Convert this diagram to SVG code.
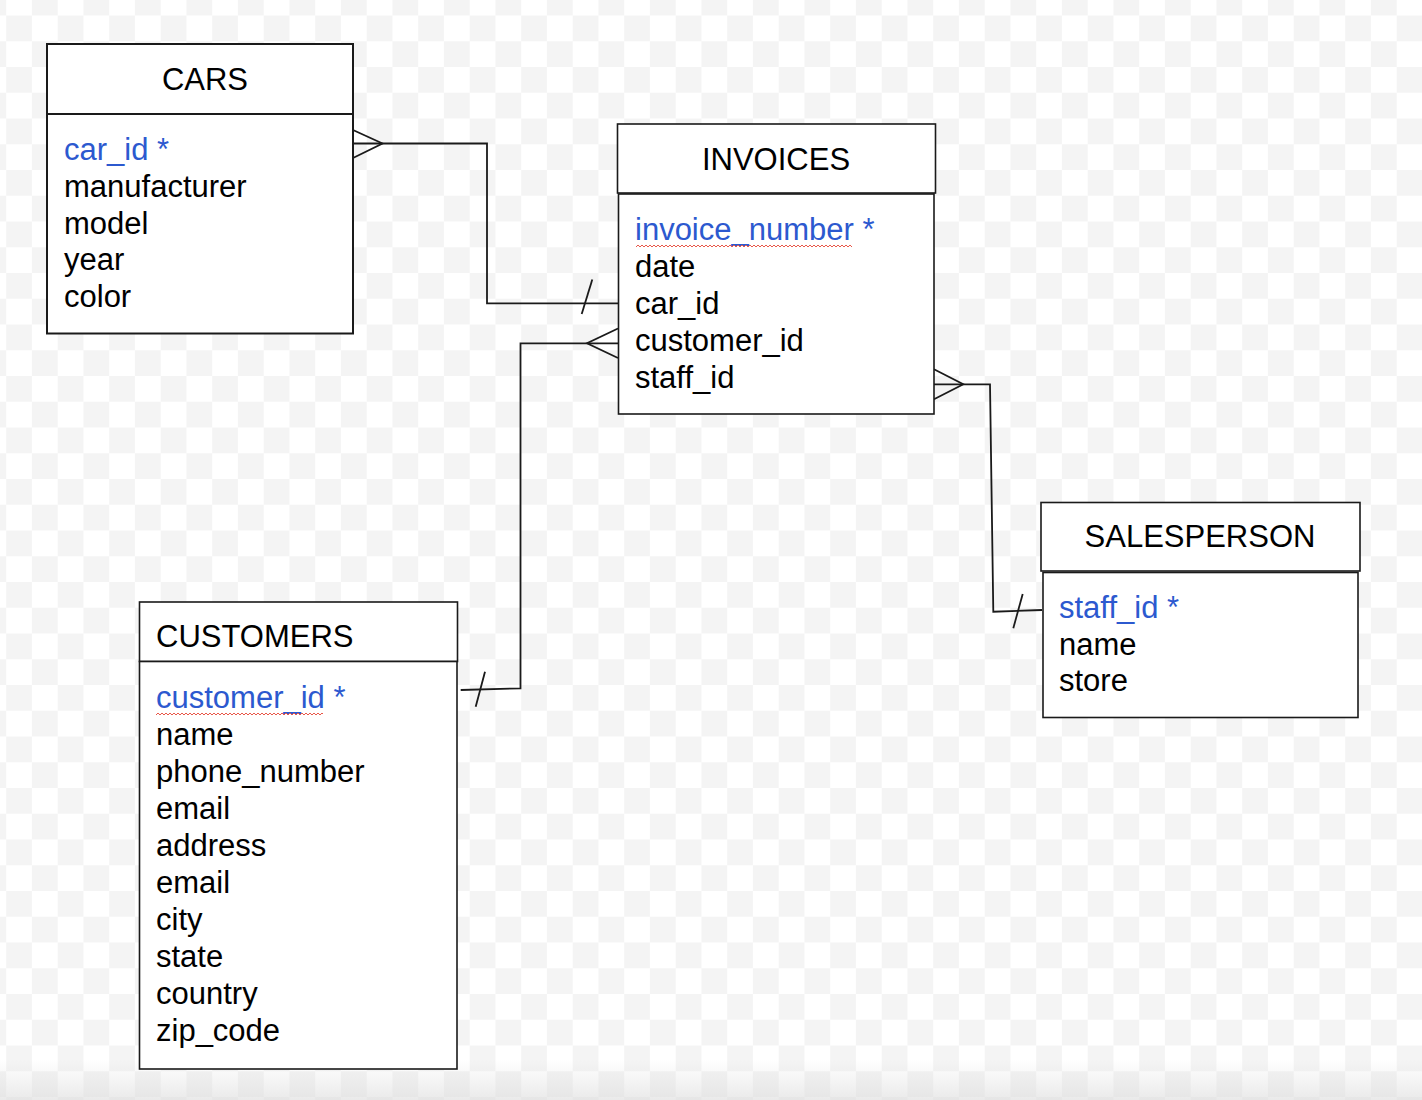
<svg xmlns="http://www.w3.org/2000/svg" width="1422" height="1100" viewBox="0 0 1422 1100">
<defs>
<pattern id="checker" x="6.2" y="15.5" width="51.5" height="51.5" patternUnits="userSpaceOnUse">
<rect width="51.5" height="51.5" fill="#ffffff"/>
<rect width="25.75" height="25.75" fill="#f4f4f4"/>
<rect x="25.75" y="25.75" width="25.75" height="25.75" fill="#f4f4f4"/>
</pattern>
<pattern id="squiggle" width="4" height="4" patternUnits="userSpaceOnUse">
<path d="M0 3 L2 1 L4 3" fill="none" stroke="#e8584a" stroke-width="1"/>
</pattern>
<linearGradient id="fade" x1="0" y1="0" x2="0" y2="1">
<stop offset="0" stop-color="#dcdcdc" stop-opacity="0"/>
<stop offset="1" stop-color="#dcdcdc" stop-opacity="0.6"/>
</linearGradient>
</defs>
<style>
.box{fill:#fff;stroke:#1a1a1a;stroke-width:1.6}
.t{font-family:"Liberation Sans",Arial,sans-serif;font-size:31px;fill:#000}
.k{fill:#2c59cf}
.c{fill:none;stroke:#1a1a1a;stroke-width:1.8}
</style>
<rect width="1422" height="1100" fill="url(#checker)"/>
<rect y="1060" width="1422" height="40" fill="url(#fade)"/>

<g id="connectors">
<polyline class="c" points="353,143.5 487,143.5 487,303.3 618,303.3"/>
<path class="c" d="M353,130 L382.5,143.5 L353,158"/>
<path class="c" d="M592.3,279.5 L581.7,314"/>
<polyline class="c" points="618,343.3 520.5,343.3 520.5,688.3 460.7,690"/>
<path class="c" d="M618,328.5 L587,343.3 L618,358"/>
<path class="c" d="M485,671.7 L475.7,706.7"/>
<polyline class="c" points="934,384.3 990,384.3 993.3,611.7 1042,610"/>
<path class="c" d="M934,369.3 L963.3,384.3 L934,399.3"/>
<path class="c" d="M1022.7,594 L1013.3,628.3"/>
</g>

<g id="cars">
<rect class="box" x="47" y="44" width="306" height="70" style="stroke-width:2"/>
<rect class="box" x="47" y="114" width="306" height="219.5" style="stroke-width:2"/>
<text class="t" x="205" y="89.5" text-anchor="middle">CARS</text>
<text class="t k" x="64" y="159.5">car_id *</text>
<text class="t" x="64" y="196.5">manufacturer</text>
<text class="t" x="64" y="233.5">model</text>
<text class="t" x="64" y="270">year</text>
<text class="t" x="64" y="307">color</text>
</g>

<g id="invoices">
<rect class="box" x="617.5" y="124" width="318" height="69"/>
<rect class="box" x="618.5" y="194" width="315.5" height="220"/>
<text class="t" x="776" y="169.5" text-anchor="middle">INVOICES</text>
<text class="t k" x="635" y="239.5">invoice_number *</text>
<rect x="636" y="244" width="216" height="4" fill="url(#squiggle)"/>
<text class="t" x="635" y="277">date</text>
<text class="t" x="635" y="313.5">car_id</text>
<text class="t" x="635" y="351">customer_id</text>
<text class="t" x="635" y="387.5">staff_id</text>
</g>

<g id="salesperson">
<rect class="box" x="1041" y="502.5" width="319" height="68.5"/>
<rect class="box" x="1043" y="572.5" width="315" height="145"/>
<text class="t" x="1200" y="547" text-anchor="middle">SALESPERSON</text>
<text class="t k" x="1059" y="618">staff_id *</text>
<text class="t" x="1059" y="654.5">name</text>
<text class="t" x="1059" y="691">store</text>
</g>

<g id="customers">
<rect class="box" x="139.5" y="602" width="318" height="59.5"/>
<rect class="box" x="139.5" y="661.5" width="317.5" height="407.5"/>
<text class="t" x="156" y="646.5">CUSTOMERS</text>
<text class="t k" x="156" y="707.5">customer_id *</text>
<rect x="156" y="713" width="167" height="4" fill="url(#squiggle)"/>
<text class="t" x="156" y="744.5">name</text>
<text class="t" x="156" y="781.5">phone_number</text>
<text class="t" x="156" y="818.5">email</text>
<text class="t" x="156" y="855.5">address</text>
<text class="t" x="156" y="892.5">email</text>
<text class="t" x="156" y="930">city</text>
<text class="t" x="156" y="967">state</text>
<text class="t" x="156" y="1004">country</text>
<text class="t" x="156" y="1041">zip_code</text>
</g>
</svg>
